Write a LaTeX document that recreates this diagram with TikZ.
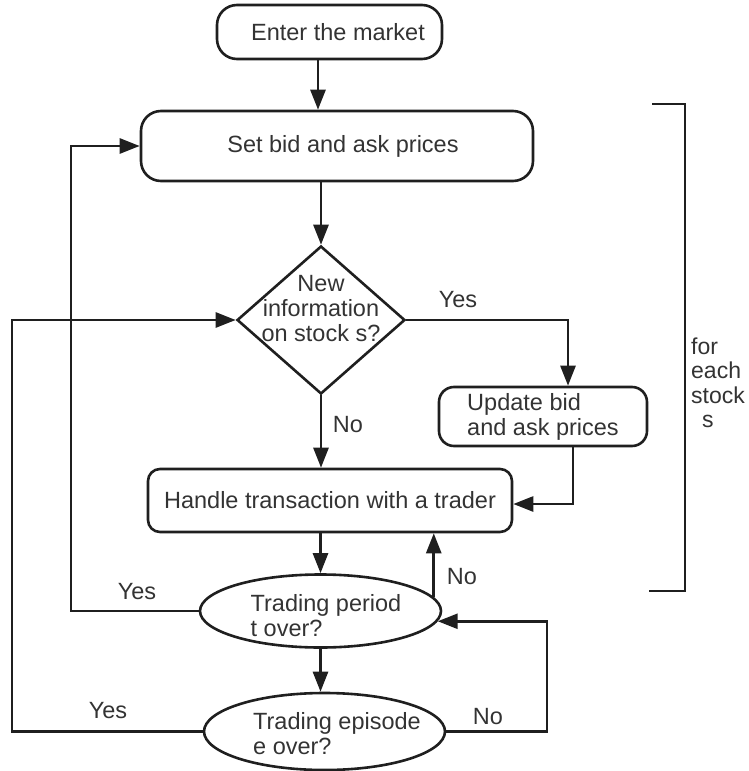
\documentclass[tikz,border=0pt]{standalone}
\usepackage{fontspec}
\setmainfont{Liberation Sans}
\usetikzlibrary{arrows.meta,shapes.geometric,calc}
\begin{document}
\begin{tikzpicture}[x=1pt,y=-1pt,
  every node/.style={font=\fontsize{23.5}{25}\selectfont, text=black!80},
  ln/.style={draw=black!88, line width=2.6pt},
  arr/.style={ln, -{Triangle[length=20pt,width=15pt]}},
  rbox/.style={ln, rounded corners=#1, inner sep=0pt},
  decision/.style={diamond, ln, inner sep=0pt},
  oval/.style={ellipse, ln, inner sep=0pt},
  lbl/.style={inner sep=1pt}
]
\useasboundingbox (0,0) rectangle (748,771);

% nodes
\node[rbox=20pt, minimum width=225pt, minimum height=54pt] (enter) at (329.5,32) {\hspace*{17pt}Enter the market};
\node[rbox=20pt, minimum width=392pt, minimum height=70pt] (set) at (337,146) {\hspace*{12pt}Set bid and ask prices};
\node[decision, minimum width=168pt, minimum height=148pt] (dia) at (321,320) {};
\node[align=center] (diat) at (321,309) {New\\information\\on stock s?};
\node[rbox=15pt, minimum width=208pt, minimum height=59pt, align=left] (upd) at (543,416.5) {Update bid\\and ask prices};
\node[rbox=12pt, minimum width=364pt, minimum height=63pt] (hand) at (330,500.5) {Handle transaction with a trader};
\node[oval, minimum width=241pt, minimum height=73pt] (tp) at (320.5,611) {};
\node[align=left] (tpt) at (326,616) {Trading period\\t over?};
\node[oval, minimum width=241pt, minimum height=77pt] (te) at (324.5,731.5) {};
\node[align=left] (tet) at (337,734) {Trading episode\\e over?};

% labels
\node[lbl] (y1) at (458,300) {Yes};
\node[lbl] (n1) at (348,425) {No};
\node[lbl] (n2) at (462,577) {No};
\node[lbl] (y2) at (137,592) {Yes};
\node[lbl] (y3) at (108,711) {Yes};
\node[lbl] (n3) at (488,717) {No};
\node[align=left, anchor=west, inner sep=0pt, font=\fontsize{23}{24.5}\selectfont] (fe) at (691,383) {for\\each\\stock\\\hspace*{11pt}s};

% bracket
\coordinate (bt) at (685,104);
\coordinate (bb) at (685,591);
\draw[ln] (652,104) -- (bt) -- (bb) -- (649,591);

% helper columns
\coordinate (cA) at (71,0);
\coordinate (cB) at (12,0);
\coordinate (cC) at (547,0);

% connectors
\draw[arr] ([xshift=-11.5pt]enter.south) -- ([xshift=-11.5pt]enter.south |- set.north);
\draw[arr] (dia.north |- set.south) -- (dia.north);
\draw[arr] (dia.east) -| ([xshift=25pt]upd.north);
\draw[arr] (dia.south) -- (dia.south |- hand.north);
\draw[arr] ([xshift=30pt]upd.south) |- ([yshift=-3.5pt]hand.east);
\draw[arr] (tp.north |- hand.south) -- (tp.north);
\draw[arr] (tp.7) -- (tp.7 |- hand.south);
\draw[arr] (tp.west) -- (tp.west -| cA) -- (cA |- set.west) -- (set.west);
\draw[arr] (tp.south) -- (tp.south |- te.north);
\draw[arr] (te.west) -- (te.west -| cB) -- (cB |- dia.west) -- (dia.west);
\draw[arr] (te.east) -- (te.east -| cC) -- (cC |- tp.-5) -- (tp.-5);
\end{tikzpicture}
\end{document}
